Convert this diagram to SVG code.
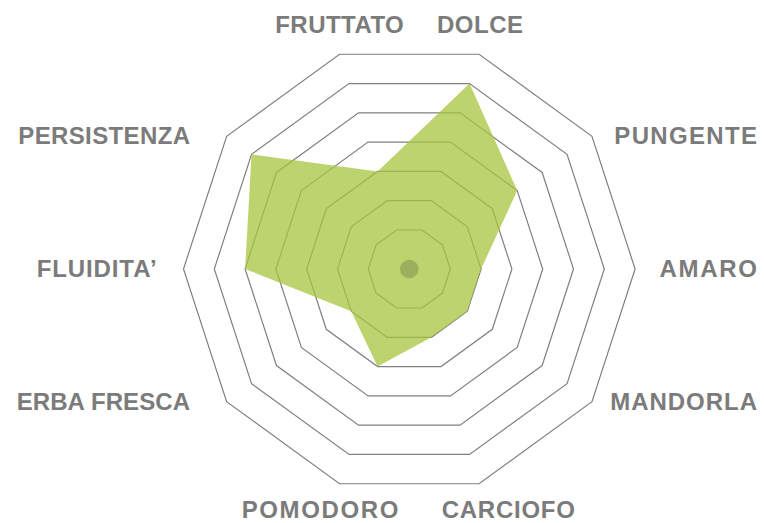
<svg xmlns="http://www.w3.org/2000/svg" width="764" height="523" viewBox="0 0 764 523">
<style>
.ring{fill:none;stroke:#808080;stroke-width:1.2;stroke-linejoin:miter}
.lbl{font-family:"Liberation Sans",Arial,sans-serif;font-weight:bold;font-size:24px;fill:#7b7b7b}
</style>
<rect width="764" height="523" fill="#ffffff"/>
<g id="grid" transform="translate(409.3,269)">
<polygon class="ring" points="225.8,0 182.68,132.72 69.78,214.75 -69.78,214.75 -182.68,132.72 -225.8,0 -182.68,-132.72 -69.78,-214.75 69.78,-214.75 182.68,-132.72"/>
<polygon class="ring" points="195,0 157.76,114.62 60.26,185.46 -60.26,185.46 -157.76,114.62 -195,0 -157.76,-114.62 -60.26,-185.46 60.26,-185.46 157.76,-114.62"/>
<polygon class="ring" points="164.2,0 132.84,96.51 50.74,156.16 -50.74,156.16 -132.84,96.51 -164.2,0 -132.84,-96.51 -50.74,-156.16 50.74,-156.16 132.84,-96.51"/>
<polygon class="ring" points="133.4,0 107.92,78.41 41.22,126.87 -41.22,126.87 -107.92,78.41 -133.4,0 -107.92,-78.41 -41.22,-126.87 41.22,-126.87 107.92,-78.41"/>
<polygon class="ring" points="102.6,0 83.01,60.31 31.71,97.58 -31.71,97.58 -83.01,60.31 -102.6,0 -83.01,-60.31 -31.71,-97.58 31.71,-97.58 83.01,-60.31"/>
<polygon class="ring" points="71.8,0 58.09,42.2 22.19,68.29 -22.19,68.29 -58.09,42.2 -71.8,0 -58.09,-42.2 -22.19,-68.29 22.19,-68.29 58.09,-42.2"/>
<polygon class="ring" points="41,0 33.17,24.1 12.67,38.99 -12.67,38.99 -33.17,24.1 -41,0 -33.17,-24.1 -12.67,-38.99 12.67,-38.99 33.17,-24.1"/>
</g>
<g id="data" transform="translate(409.3,269)">
<polygon points="71.8,0 58.09,42.2 22.19,68.29 -31.71,97.58 -58.09,42.2 -164.2,0 -157.76,-114.62 -31.71,-97.58 60.26,-185.46 107.92,-78.41" fill="rgb(167,196,62)" fill-opacity="0.75"/>
<circle cx="0" cy="0" r="9.3" fill="#9caf5e"/>
</g>
<g id="labels">
<text class="lbl" x="339.5" y="33" text-anchor="middle" textLength="128.5">FRUTTATO</text>
<text class="lbl" x="480" y="33" text-anchor="middle" textLength="86">DOLCE</text>
<text class="lbl" x="757" y="144" text-anchor="end" textLength="142.7">PUNGENTE</text>
<text class="lbl" x="757" y="277" text-anchor="end" textLength="97.4">AMARO</text>
<text class="lbl" x="757" y="409.5" text-anchor="end" textLength="146.7">MANDORLA</text>
<text class="lbl" x="508.3" y="517.5" text-anchor="middle" textLength="133.3">CARCIOFO</text>
<text class="lbl" x="320" y="517.5" text-anchor="middle" textLength="156.6">POMODORO</text>
<text class="lbl" x="190" y="410" text-anchor="end" textLength="173.3">ERBA FRESCA</text>
<text class="lbl" x="96.7" y="277" text-anchor="middle" textLength="120">FLUIDITA’</text>
<text class="lbl" x="190" y="144" text-anchor="end" textLength="171.7">PERSISTENZA</text>
</g>
</svg>
